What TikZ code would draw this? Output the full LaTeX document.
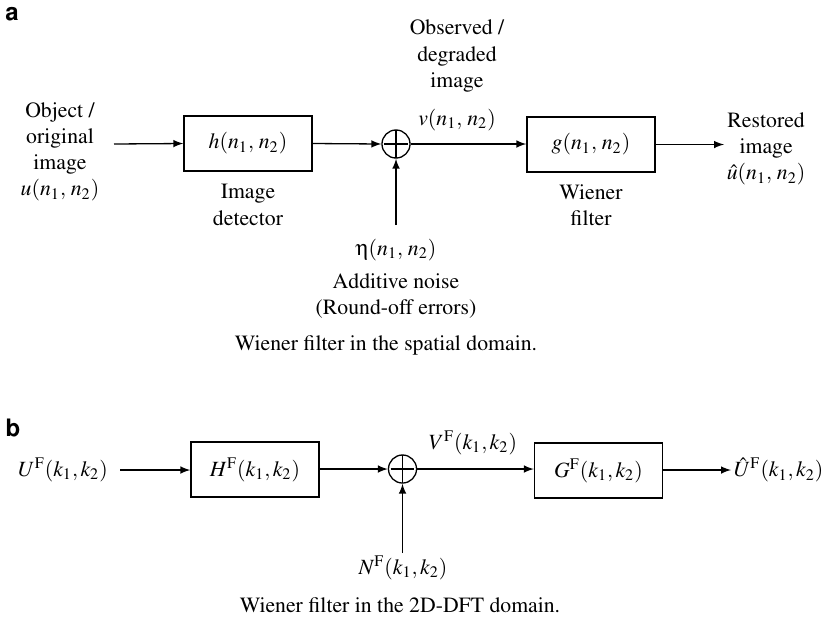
\documentclass[tikz,border=0pt]{standalone}
\usepackage[T1]{fontenc}
\usepackage{mathptmx}
\usepackage[scaled=0.92]{helvet}
\usepackage[Symbol]{upgreek}
\usetikzlibrary{positioning, calc, arrows.meta}

\begin{document}
\begin{tikzpicture}[
    x=0.46pt, y=-0.46pt,
    >=latex,
    line width=0.6pt,
    blk/.style={draw, minimum width=58.9pt, minimum height=25.3pt, inner sep=2pt, font=\fontsize{10}{12}\selectfont},
    sumop/.style={draw, circle, minimum size=12.9pt, inner sep=0pt,
        path picture={\draw[shorten <=1pt, shorten >=1pt]
            (path picture bounding box.north) -- (path picture bounding box.south)
            (path picture bounding box.west) -- (path picture bounding box.east);}},
    lbl/.style={align=center, inner sep=1pt, font=\fontsize{10}{12}\selectfont},
    panel/.style={inner sep=0pt, font=\sffamily\bfseries\fontsize{12}{14}\selectfont},
    flow/.style={->},
]
\useasboundingbox (0,0) rectangle (833,621);

% (a) spatial domain
\node[panel] (pa) at (12,14) {a};

\node[lbl] (inp)  at (60,152)  {Object /\\original\\image\\$u(n_1,\, n_2)$};
\node[blk] (h)    at (248,143.5) {$h(n_1,\, n_2)$};
\node[sumop] (sum) at (396,144) {};
\node[blk] (g)    at (591,144.5) {$g(n_1,\, n_2)$};
\node[lbl, anchor=west] (out) at (724,149) {Restored\\image\\$\hat{u}(n_1,\, n_2)$};

\node[lbl] (det)  at (248,205) {Image\\detector};
\node[lbl] (wf)   at (591,205) {Wiener\\filter};
\node[lbl] (obs)  at (457,56)  {Observed /\\degraded\\image};
\node[lbl] (vlbl) at (457,120) {$v(n_1,\, n_2)$};
\node[lbl] (eta)  at (396,250) {$\upeta(n_1,\, n_2)$};
\node[lbl] (noise) at (396,296) {Additive noise\\(Round-off errors)};
\node[lbl] (capa) at (386,345) {Wiener filter in the spatial domain.};

\coordinate (src)  at (114,144);
\coordinate (nsrc) at (396,225);

\draw[flow] (src) -- (h.west);
\draw[flow] (h.east) -- (sum.west);
\draw[flow] (sum.east) -- (sum.east -| g.west);
\draw[flow] (g.east) -- (g.east -| out.west);
\draw[flow] (nsrc) -- (sum.south);

% (b) 2D-DFT domain
\node[panel] (pb) at (13,428) {b};

\node[lbl] (uin)   at (63,470)  {$U^{\mathrm{F}}(k_1, k_2)$};
\node[blk] (hf)    at (255,469.5) {$H^{\mathrm{F}}(k_1, k_2)$};
\node[sumop] (sumf) at (402.5,469) {};
\node[blk] (gf)    at (598.5,470.5) {$G^{\mathrm{F}}(k_1, k_2)$};
\node[lbl, anchor=west] (uout) at (731,470) {$\hat{U}^{\mathrm{F}}(k_1, k_2)$};

\node[lbl] (vf)   at (473,443) {$V^{\mathrm{F}}(k_1, k_2)$};
\node[lbl] (nf)   at (403,568) {$N^{\mathrm{F}}(k_1, k_2)$};
\node[lbl] (capb) at (400,605) {Wiener filter in the 2D-DFT domain.};

\coordinate (srcf)  at (120,470);
\coordinate (nsrcf) at (402.5,553);

\draw[flow] (srcf) -- (srcf -| hf.west);
\draw[flow] (hf.east |- sumf) -- (sumf.west);
\draw[flow] (sumf.east) -- (sumf.east -| gf.west);
\draw[flow] (gf.east |- uout) -- (uout.west);
\draw[flow] (nsrcf) -- (sumf.south);

\end{tikzpicture}
\end{document}
